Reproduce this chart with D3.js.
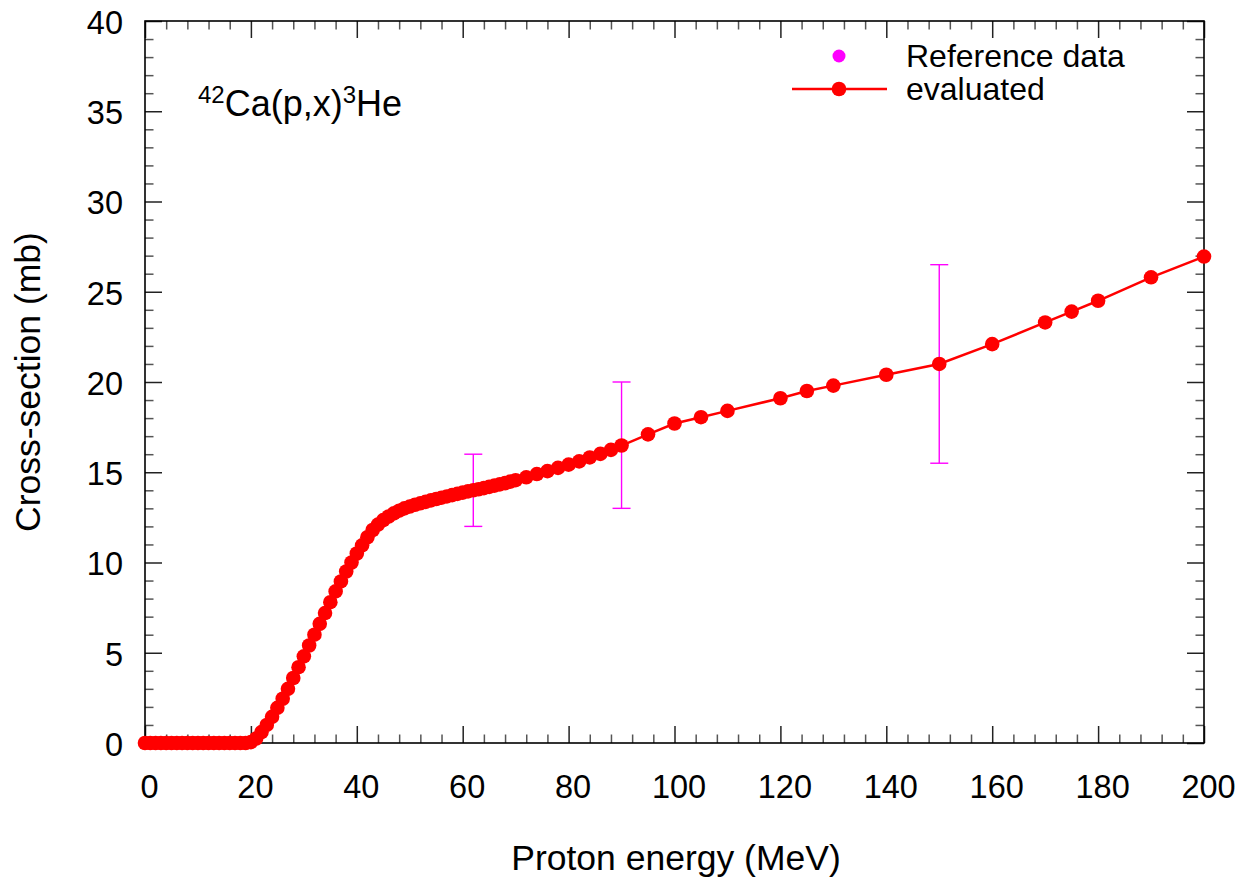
<!DOCTYPE html>
<html>
<head>
<meta charset="utf-8">
<script src="https://cdn.jsdelivr.net/npm/d3@7"></script>
<style>
  html, body { margin: 0; padding: 0; background: #fff; }
  svg { display: block; }
  text { font-family: "Liberation Sans", Arial, sans-serif; fill: #000; }
</style>
</head>
<body>
<svg id="chart" width="1252" height="878"></svg>
<script>
// ---- Data ----
const evalEnergy = [0,1,2,3,4,5,6,7,8,9,10,11,12,13,14,15,16,17,18,19,20,21,22,23,24,25,26,27,28,29,30,
  31,32,33,34,35,36,37,38,39,40,41,42,43,44,45,46,47,48,49,50,51,52,53,54,55,56,57,58,59,60,
  61,62,63,64,65,66,67,68,69,70,72,74,76,78,80,82,84,86,88,90,
  95,100,105,110,120,125,130,140,150,160,170,175,180,190,200];
const evalXS = [0,0,0,0,0,0,0,0,0,0,0,0,0,0,0,0,0,0,0,0,0.05,0.25,0.6,1.0,1.45,1.95,2.45,3.0,3.6,4.2,4.8,
  5.4,6.0,6.6,7.2,7.8,8.4,8.95,9.5,10.0,10.5,10.95,11.4,11.8,12.1,12.35,12.55,12.72,12.87,13.0,13.1,
  13.2,13.28,13.36,13.44,13.52,13.59,13.66,13.73,13.8,13.87,
  13.94,14.0,14.06,14.12,14.19,14.26,14.33,14.4,14.48,14.56,14.72,14.9,15.06,15.24,15.42,15.6,15.82,16.02,16.24,16.48,
  17.1,17.7,18.05,18.4,19.1,19.5,19.8,20.4,21.0,22.1,23.3,23.9,24.5,25.8,26.95];

const refEnergy = [62, 90, 150];
const refXS     = [14, 16.5, 21];
const refLow    = [12, 13, 15.5];
const refHigh   = [16, 20, 26.5];

const xMajorTicks = [0,20,40,60,80,100,120,140,160,180,200];
const yMajorTicks = [0,5,10,15,20,25,30,35,40];
const xMinorTicks = d3.range(0, 201, 4).filter(v => v % 20 !== 0);
const yMinorTicks = d3.range(0, 41, 1).filter(v => v % 5 !== 0);

const legendLabels = ["Reference data", "evaluated"];
const xTitle = "Proton energy (MeV)";
const yTitle = "Cross-section (mb)";

// ---- Layout ----
const L = 145, R = 1204, T = 21, B = 743;
const svg = d3.select("#chart");
const x = d3.scaleLinear().domain([0, 200]).range([L, R]);
const y = d3.scaleLinear().domain([0, 40]).range([B, T]);

const MAJ = 17, MIN = 8.5;

function styleAxis(g, color) {
  g.select(".domain").remove();
  g.selectAll(".tick line").attr("stroke", color).attr("stroke-width", 1.5);
}

// minor ticks
svg.append("g").attr("transform", `translate(0,${B})`)
  .call(d3.axisBottom(x).tickValues(xMinorTicks).tickSize(-MIN).tickFormat(""))
  .call(g => styleAxis(g, "#555"));
svg.append("g").attr("transform", `translate(0,${T})`)
  .call(d3.axisTop(x).tickValues(xMinorTicks).tickSize(-MIN).tickFormat(""))
  .call(g => styleAxis(g, "#555"));
svg.append("g").attr("transform", `translate(${L},0)`)
  .call(d3.axisLeft(y).tickValues(yMinorTicks).tickSize(-MIN).tickFormat(""))
  .call(g => styleAxis(g, "#555"));
svg.append("g").attr("transform", `translate(${R},0)`)
  .call(d3.axisRight(y).tickValues(yMinorTicks).tickSize(-MIN).tickFormat(""))
  .call(g => styleAxis(g, "#555"));

// major ticks
const xb = svg.append("g").attr("transform", `translate(0,${B})`)
  .call(d3.axisBottom(x).tickValues(xMajorTicks).tickSize(-MAJ).tickPadding(32).tickFormat(d3.format("d")))
  .call(g => styleAxis(g, "#222"));
xb.selectAll(".tick text").attr("font-size", 32.5).attr("dx", 4)
  .style("font-family", "'Liberation Sans', Arial, sans-serif").attr("fill", "#000");

svg.append("g").attr("transform", `translate(0,${T})`)
  .call(d3.axisTop(x).tickValues(xMajorTicks).tickSize(-MAJ).tickFormat(""))
  .call(g => styleAxis(g, "#222"));

const yl = svg.append("g").attr("transform", `translate(${L},0)`)
  .call(d3.axisLeft(y).tickValues(yMajorTicks).tickSize(-MAJ).tickPadding(22).tickFormat(d3.format("d")))
  .call(g => styleAxis(g, "#222"));
yl.selectAll(".tick text").attr("font-size", 32.5).attr("dy", "0.38em")
  .style("font-family", "'Liberation Sans', Arial, sans-serif").attr("fill", "#000");

svg.append("g").attr("transform", `translate(${R},0)`)
  .call(d3.axisRight(y).tickValues(yMajorTicks).tickSize(-MAJ).tickFormat(""))
  .call(g => styleAxis(g, "#222"));

// frame
svg.append("rect").attr("x", L).attr("y", T).attr("width", R - L).attr("height", B - T)
  .attr("fill", "none").attr("stroke", "#000").attr("stroke-width", 1.6);

// ---- Reference data (error bars) ----
const refData = refEnergy.map((e, i) => ({e, v: refXS[i], lo: refLow[i], hi: refHigh[i]}));
const mag = "#ff00ff";
const eb = svg.append("g");
refData.forEach(d => {
  eb.append("line").attr("x1", x(d.e)).attr("x2", x(d.e)).attr("y1", y(d.lo)).attr("y2", y(d.hi))
    .attr("stroke", mag).attr("stroke-width", 1.4);
  [d.lo, d.hi].forEach(v => {
    eb.append("line").attr("x1", x(d.e) - 9).attr("x2", x(d.e) + 9).attr("y1", y(v)).attr("y2", y(v))
      .attr("stroke", mag).attr("stroke-width", 1.4);
  });
  eb.append("circle").attr("cx", x(d.e)).attr("cy", y(d.v)).attr("r", 6.5).attr("fill", mag);
});

// ---- Evaluated ----
const evalData = evalEnergy.map((e, i) => ({e, v: evalXS[i]}));
svg.append("path").datum(evalData)
  .attr("d", d3.line().x(d => x(d.e)).y(d => y(d.v)))
  .attr("fill", "none").attr("stroke", "#ff0000").attr("stroke-width", 2.5);
svg.append("g").selectAll("circle").data(evalData).join("circle")
  .attr("cx", d => x(d.e)).attr("cy", d => y(d.v)).attr("r", 7.3).attr("fill", "#ff0000");

// ---- Reaction label ----
const lab = svg.append("text").attr("x", 198).attr("y", 116).attr("font-size", 36);
lab.append("tspan").attr("font-size", 24).attr("dy", -13).text("42");
lab.append("tspan").attr("dy", 13).text("Ca(p,x)");
lab.append("tspan").attr("font-size", 24).attr("dy", -13).text("3");
lab.append("tspan").attr("dy", 13).text("He");

// ---- Legend ----
const lg = svg.append("g");
lg.append("circle").attr("cx", 839).attr("cy", 56).attr("r", 6.5).attr("fill", mag);
lg.append("text").attr("x", 906).attr("y", 67).attr("font-size", 32).text(legendLabels[0]);
lg.append("line").attr("x1", 792).attr("x2", 887).attr("y1", 89).attr("y2", 89)
  .attr("stroke", "#ff0000").attr("stroke-width", 2.5);
lg.append("circle").attr("cx", 839).attr("cy", 89).attr("r", 7.3).attr("fill", "#ff0000");
lg.append("text").attr("x", 906).attr("y", 100).attr("font-size", 32).text(legendLabels[1]);

// ---- Axis titles ----
svg.append("text").attr("x", 676).attr("y", 870).attr("text-anchor", "middle")
  .attr("font-size", 35.5).text(xTitle);
svg.append("text").attr("transform", `translate(40,${(T + B) / 2}) rotate(-90)`)
  .attr("text-anchor", "middle").attr("font-size", 35.5).text(yTitle);
</script>
</body>
</html>
